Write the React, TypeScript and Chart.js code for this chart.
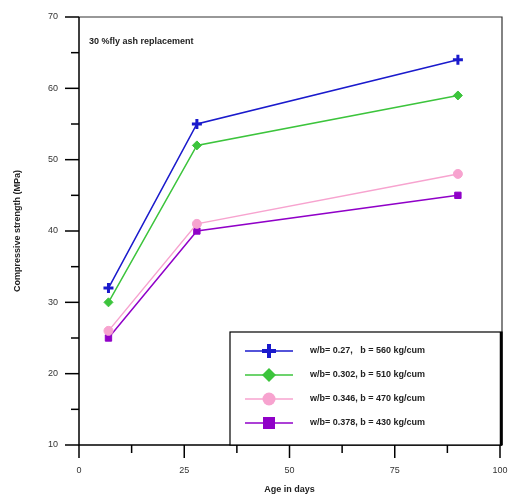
import React, { useEffect, useRef } from "react";
import { Chart, registerables } from "chart.js";
Chart.register(...registerables);

const ages = [7, 28, 90];
const seriesLabels = [
  "w/b= 0.27,   b = 560 kg/cum",
  "w/b= 0.302, b = 510 kg/cum",
  "w/b= 0.346, b = 470 kg/cum",
  "w/b= 0.378, b = 430 kg/cum",
];
const s1 = [32, 55, 64];
const s2 = [30, 52, 59];
const s3 = [26, 41, 48];
const s4 = [25, 40, 45];
const colors = ["#1a1acc", "#3cc43c", "#f7a3cf", "#9000c8"];
const shapes = ["cross", "rectRot", "circle", "rect"];
const xTicks = [0, 25, 50, 75, 100];
const yTicks = [10, 20, 30, 40, 50, 60, 70];
const title = "30 %fly ash replacement";
const xTitle = "Age in days";
const yTitle = "Compressive strength (MPa)";

const FONT = "'Liberation Sans', Arial, sans-serif";

const decor = {
  id: "decor",
  afterDraw(chart: any) {
    const ctx = chart.ctx;
    const { left, right, top, bottom } = chart.chartArea;
    const xs = chart.scales.x;
    const ys = chart.scales.y;
    ctx.save();
    // top & right frame (thinner)
    ctx.strokeStyle = "#333";
    ctx.lineWidth = 1.2;
    ctx.beginPath();
    ctx.moveTo(left, top);
    ctx.lineTo(right + 2, top);
    ctx.lineTo(right + 2, bottom);
    ctx.stroke();
    // axes
    ctx.strokeStyle = "#000";
    ctx.lineWidth = 1.5;
    ctx.beginPath();
    ctx.moveTo(left, top);
    ctx.lineTo(left, bottom);
    ctx.lineTo(right + 2, bottom);
    ctx.stroke();
    for (let v = 10; v <= 70; v += 5) {
      const y = ys.getPixelForValue(v);
      const major = v % 10 === 0;
      ctx.beginPath();
      ctx.moveTo(left - (major ? 14 : 8), y);
      ctx.lineTo(left, y);
      ctx.stroke();
    }
    for (let v = 0; v <= 100; v += 12.5) {
      const x = xs.getPixelForValue(v);
      const major = v % 25 === 0;
      ctx.beginPath();
      ctx.moveTo(x, bottom);
      ctx.lineTo(x, bottom + (major ? 13 : 8));
      ctx.stroke();
    }
    // tick labels
    ctx.fillStyle = "#333";
    ctx.font = `9px ${FONT}`;
    ctx.textBaseline = "middle";
    ctx.textAlign = "right";
    yTicks.forEach((v) => ctx.fillText(String(v), left - 21, ys.getPixelForValue(v)));
    ctx.textAlign = "center";
    xTicks.forEach((v) => ctx.fillText(String(v), xs.getPixelForValue(v), bottom + 26));
    // axis titles
    ctx.fillStyle = "#222";
    ctx.font = `bold 9px ${FONT}`;
    ctx.fillText(xTitle, (left + right) / 2, bottom + 45);
    ctx.save();
    ctx.translate(18, (top + bottom) / 2);
    ctx.rotate(-Math.PI / 2);
    ctx.fillText(yTitle, 0, 0);
    ctx.restore();
    // inner title
    ctx.textAlign = "left";
    ctx.fillText(title, left + 10, top + 25);
    // legend
    const lx = 230, ly = 332, lw = right + 2 - 230, lh = bottom - 332;
    ctx.fillStyle = "#fff";
    ctx.fillRect(lx, ly, lw, lh);
    ctx.strokeStyle = "#000";
    ctx.lineWidth = 1.2;
    ctx.strokeRect(lx, ly, lw, lh);
    ctx.lineWidth = 2.5;
    ctx.beginPath();
    ctx.moveTo(right + 1, ly);
    ctx.lineTo(right + 1, bottom);
    ctx.stroke();
    chart.data.datasets.forEach((ds: any, i: number) => {
      const y = ly + 19 + i * 24;
      ctx.strokeStyle = ds.borderColor;
      ctx.lineWidth = 1.5;
      ctx.beginPath();
      ctx.moveTo(245, y);
      ctx.lineTo(293, y);
      ctx.stroke();
      ctx.fillStyle = ds.borderColor;
      const cx = 269;
      const sh = ds.pointStyle;
      if (sh === "cross") {
        ctx.lineWidth = 4;
        ctx.beginPath();
        ctx.moveTo(cx - 7, y);
        ctx.lineTo(cx + 7, y);
        ctx.moveTo(cx, y - 7);
        ctx.lineTo(cx, y + 7);
        ctx.stroke();
      } else if (sh === "rectRot") {
        ctx.beginPath();
        ctx.moveTo(cx, y - 7);
        ctx.lineTo(cx + 7, y);
        ctx.lineTo(cx, y + 7);
        ctx.lineTo(cx - 7, y);
        ctx.closePath();
        ctx.fill();
      } else if (sh === "circle") {
        ctx.beginPath();
        ctx.arc(cx, y, 6.5, 0, Math.PI * 2);
        ctx.fill();
      } else {
        ctx.fillRect(cx - 6, y - 6, 12, 12);
      }
      ctx.fillStyle = "#222";
      ctx.font = `bold 9px ${FONT}`;
      ctx.textAlign = "left";
      ctx.fillText(ds.label, 310, y);
    });
    ctx.restore();
  },
};

export default function App() {
  const ref = useRef<HTMLCanvasElement>(null);
  useEffect(() => {
    const all = [s1, s2, s3, s4];
    const chart = new Chart(ref.current!, {
      type: "line",
      data: {
        datasets: all.map((d, i) => ({
          label: seriesLabels[i],
          data: d.map((v, j) => ({ x: ages[j], y: v })),
          borderColor: colors[i],
          backgroundColor: colors[i],
          pointBorderColor: colors[i],
          pointStyle: shapes[i] as any,
          pointRadius: i === 0 ? 5 : 4.5,
          pointBorderWidth: i === 0 ? 3 : 1,
          borderWidth: 1.5,
          fill: false,
        })),
      },
      options: {
        animation: false,
        responsive: false,
        devicePixelRatio: 1,
        layout: { padding: { left: 0, right: 13, top: 17, bottom: 0 } },
        plugins: { legend: { display: false }, tooltip: { enabled: false } },
        scales: {
          x: {
            type: "linear",
            min: 0,
            max: 100,
            afterBuildTicks: (s: any) => {
              s.ticks = xTicks.map((v) => ({ value: v }));
            },
            afterFit: (s: any) => {
              s.height = 50;
            },
            grid: { display: false, drawTicks: false },
            border: { display: false },
            ticks: { display: false },
          },
          y: {
            min: 10,
            max: 70,
            afterBuildTicks: (s: any) => {
              s.ticks = yTicks.map((v) => ({ value: v }));
            },
            afterFit: (s: any) => {
              s.width = 79;
            },
            grid: { display: false, drawTicks: false },
            border: { display: false },
            ticks: { display: false },
          },
        },
      },
      plugins: [decor],
    });
    return () => chart.destroy();
  }, []);
  return (
    <div style={{ position: "absolute", left: 0, top: 0, width: 513, height: 495, background: "#fff" }}>
      <canvas ref={ref} width={513} height={495} style={{ width: 513, height: 495 }} />
    </div>
  );
}
